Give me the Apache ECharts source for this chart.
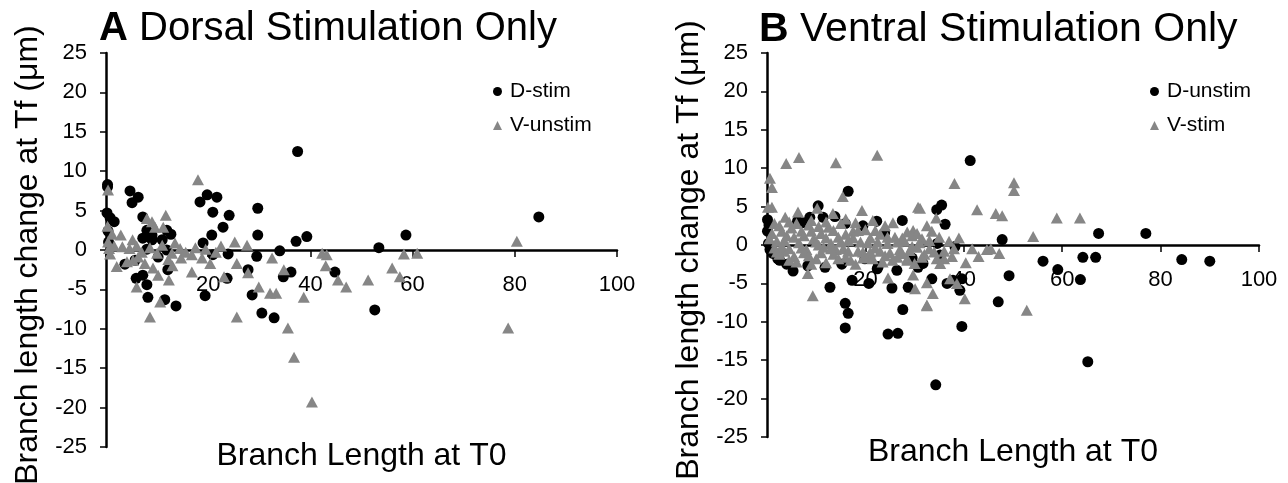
<!DOCTYPE html>
<html><head><meta charset="utf-8">
<script src="https://cdn.jsdelivr.net/npm/echarts@6/dist/echarts.min.js"></script>
<style>html,body{margin:0;padding:0;background:#fff}#c{width:1288px;height:483px}</style>
</head><body><div id="c"></div>
<script>
// Panel A: Dorsal Stimulation Only
const aDstim = [
[0.3,8.3],[0.3,8.0],[0.2,4.7],[0.8,4.1],[1.6,3.6],[0.4,2.4],[0.5,1.0],
[4.7,7.5],[6.3,6.7],[5.1,6.0],[7.2,4.2],[8.0,2.5],[9.0,1.9],[8.2,1.7],[9.0,1.3],[7.2,1.5],[11.0,1.3],[11.9,2.5],[12.7,2.0],[8.0,0.1],[11.9,0.0],[10.2,-0.9],[3.7,-1.8],[5.7,-1.3],
[5.9,-3.6],[8.0,-4.4],[7.2,-3.2],[8.2,-6.0],[11.5,-6.3],[13.7,-7.1],[12.1,-2.5],
[19.8,7.0],[18.4,6.1],[21.7,6.7],[20.9,4.8],[24.1,4.4],[22.9,2.9],[20.7,1.9],[19.0,0.9],[29.7,5.3],[29.7,1.9],[20.9,-0.6],[23.9,-0.5],[29.5,-0.8],[27.8,-2.5],[23.7,-3.6],[19.4,-5.8],[28.6,-5.7],[30.5,-8.0],[32.9,-8.6],
[37.5,12.5],[34.0,-0.1],[37.2,1.1],[39.3,1.7],[36.2,-2.8],[34.7,-3.4],[44.8,-2.8],[53.4,0.3],[52.6,-7.6],[58.7,1.9],[84.7,4.2]
];
const aVunstim = [
[0.4,7.6],[0.3,3.0],[0.4,1.0],[0.6,0.2],[0.8,-0.5],[1.2,2.0],[1.6,0.5],[2.1,-2.1],[2.9,1.9],[3.2,0.4],[4.1,-1.5],[4.6,0.2],[5.2,1.3],[5.3,-1.3],[6.0,0.5],[6.3,-0.9],[7.0,-0.3],[7.6,-1.7],[8.0,4.0],[8.6,0.3],[9.0,3.6],[9.2,-2.3],[9.6,2.9],[10.0,-0.4],[10.2,-3.2],[11.2,2.9],[11.0,0.6],[11.7,4.4],[12.2,-1.2],[12.9,-0.4],[13.5,0.9],[13.0,-2.0],[14.5,0.2],[14.7,-1.0],[15.6,-0.3],[16.8,-0.6],[16.8,-2.8],[17.5,0.3],[18.8,-1.0],[19.5,0.1],[20.4,-1.7],[21.5,-0.3],[22.5,0.5],
[6.0,-4.7],[8.6,-8.5],[10.6,-6.6],[12.3,-3.8],[18.0,8.9],
[25.2,1.0],[27.6,0.6],[25.6,-1.7],[27.8,-2.9],[29.9,-4.7],[25.6,-8.5],[32.5,-1.0],[23.1,-3.4],[32.1,-5.5],
[34.8,-2.5],[33.3,-5.5],[35.6,-9.9],[36.8,-13.6],[40.3,-19.3],[38.7,-6.0],[42.3,-0.4],[43.2,-0.6],[43.0,-2.0],[45.4,-3.8],[47.0,-4.7],[51.3,-3.8],[56.0,-2.3],[57.5,-3.4],[58.3,-0.5],[60.9,-0.4],[80.4,1.1],[78.7,-9.9]
];
// Panel B: Ventral Stimulation Only
const bDunstim = [
[0.1,3.3],[0.1,1.8],[0.3,0.2],[0.6,-0.6],[1.2,-1.1],[2.2,-1.8],[2.6,-2.0],[4.0,-2.5],[5.3,-3.4],[0.4,2.6],
[6.2,3.1],[8.7,3.6],[7.3,2.9],[10.4,5.1],[11.4,3.6],[13.8,3.7],[15.9,2.8],[16.5,7.0],[19.5,2.5],[22.3,3.1],[23.9,1.6],[27.5,3.2],
[8.3,-2.7],[11.8,-2.9],[15.2,-2.5],[19.9,-1.8],[22.6,-2.8],[26.4,-3.3],[29.5,-1.7],[30.7,-2.9],[31.5,-2.4],
[12.8,-5.5],[17.3,-4.6],[20.7,-5.0],[22.4,-3.1],[25.4,-5.6],[28.7,-5.5],[33.5,-4.4],[15.9,-7.6],[16.5,-8.9],[15.9,-10.8],[24.6,-11.6],[26.6,-11.5],[27.6,-8.4],
[41.3,11.0],[35.5,5.2],[34.5,4.6],[36.2,2.7],[47.8,0.7],[38.2,-0.2],[34.6,0.2],[35.2,-1.3],[31.7,-2.4],[36.6,-5.0],[39.6,-4.4],[37.8,-4.6],[39.2,-5.9],[49.2,-4.0],[47.0,-7.4],[39.6,-10.6],[34.3,-18.2],[56.1,-2.1],[59.1,-3.2],[63.7,-4.5],[64.2,-1.6],[66.8,-1.6],[67.4,1.5],[65.2,-15.2],[77.0,1.5],[84.3,-1.9],[90.0,-2.1]
];
const bVstim = [
[0.6,8.7],[1.0,7.5],[3.9,10.6],[6.5,11.4],[14.0,10.7],[22.4,11.7],[15.4,6.3],[19.3,4.5],[0.2,4.9],[1.0,4.9],[3.7,3.6],[6.3,4.3],[10.2,4.8],[13.4,4.1],[25.6,2.9],[29.7,1.9],[30.7,4.9],[31.1,4.8],[32.5,2.5],[34.4,3.5],[38.1,8.0],
[1.0,1.5],[2.0,0.5],[2.5,2.5],[3.5,-0.8],[4.0,1.2],[5.0,2.2],[5.5,-1.5],[6.5,0.3],[7.0,1.8],[8.0,-0.6],[8.5,2.6],[9.5,0.8],[10.0,-1.8],[11.0,1.5],[11.5,-0.3],[12.5,2.3],[13.0,0.2],[13.5,-1.2],[14.5,1.0],[15.0,2.8],[15.5,-0.5],[16.5,0.6],[17.0,-2.0],[17.5,1.8],[18.5,-0.8],[19.0,0.4],[20.0,2.0],[20.5,-1.5],[21.0,0.9],[22.0,-0.4],[23.0,1.4],[23.5,-2.2],[24.5,0.2],[25.0,-1.0],[26.0,1.0],[27.0,-0.6],[28.0,0.5],[28.5,-1.8],[29.5,1.2],[30.5,-0.3],[31.5,0.8],[32.0,-1.2],[33.0,-0.5],[33.5,1.8],[34.5,-1.8],[36.0,-0.8],[37.0,0.5],
[2.5,-1.2],[4.5,-2.0],[6.0,-2.2],[7.5,-1.0],[9.0,-2.5],[10.5,0.0],[12.0,-2.3],[14.0,-0.6],[16.0,-1.6],[18.0,-2.5],[19.5,-0.9],[21.5,-1.8],[22.5,0.4],[24.0,-1.4],[26.5,-1.6],[27.5,0.9],[29.0,-0.7],[30.0,-2.4],[31.0,0.3],[4.5,3.0],[9.0,3.2],[12.0,3.0],[16.0,3.4],[18.0,2.9],[21.5,3.2],[24.0,2.5],[3.0,-0.2],[1.5,-0.4],
[0.5,0.8],[1.5,2.8],[2.0,-0.9],[3.0,1.8],[3.5,0.6],[4.5,-0.5],[5.5,1.0],[6.0,2.8],[7.0,-0.4],[7.5,1.2],[8.5,-1.4],[9.0,1.8],[10.0,0.4],[10.5,2.4],[11.0,-1.0],[12.0,0.9],[13.0,-0.5],[13.5,1.9],[14.5,-1.8],[15.0,0.4],[16.0,1.4],[16.5,-0.8],[17.5,0.9],[18.5,1.9],[19.5,-1.7],[20.5,0.3],[21.0,-0.9],[22.0,1.9],[23.0,-0.8],[24.5,1.0],[25.5,-2.0],[26.5,0.4],[27.5,-1.1],[28.5,1.7],[29.5,-0.2],[30.5,1.5],[31.5,-1.6],[33.0,0.6],[34.0,-0.9],[35.0,1.0],[36.0,-1.8],[38.0,-0.5],[39.0,0.9],[43.0,-1.5],[45.5,-0.5],
[9.3,-6.6],[8.3,-3.7],[24.6,-4.3],[29.7,-3.9],[30.1,-5.7],[32.5,-7.8],[28.5,-2.0],
[50.2,8.1],[50.2,7.1],[42.7,4.6],[46.5,4.1],[47.8,3.8],[58.9,3.5],[63.6,3.5],[54.1,1.1],[41.7,-0.5],[44.7,-0.6],[47.2,-1.1],[40.4,-2.3],[37.6,-1.5],[35.2,-2.4],[32.5,-4.9],[33.7,-6.3],[32.5,-7.9],[40.2,-7.0],[52.8,-8.5],[38.6,-5.0],[37.2,-4.4]
];
const panelTitles = ['A', 'Dorsal Stimulation Only', 'B', 'Ventral Stimulation Only'];
const seriesNames = ['D-stim', 'V-unstim', 'D-unstim', 'V-stim'];
const xName = 'Branch Length at T0';
const yName = 'Branch length change at Tf (\u03bcm)';

const FONT = 'Liberation Sans, Arial, sans-serif';
const chart = echarts.init(document.getElementById('c'), null, {renderer: 'canvas'});

// the x axis sits on y = 0: shift it up from the grid bottom by half the plot height
function xAx(i, halfH, gap) {
  return {
    gridIndex: i, type: 'value', min: 0, max: 100, interval: 20,
    position: 'bottom', offset: -halfH,
    name: xName, nameLocation: 'middle', nameGap: gap,
    nameTextStyle: {fontSize: 32, color: '#000', fontFamily: FONT},
    axisLine: {onZero: false, lineStyle: {color: '#000', width: 2.5}},
    axisTick: {show: true, length: 7, lineStyle: {color: '#000', width: 1.5}},
    axisLabel: {fontSize: 22, color: '#000', fontFamily: FONT, margin: 24,
      formatter: v => v === 0 ? '' : String(v)},
    splitLine: {show: false}
  };
}
function yAx(i) {
  return {
    gridIndex: i, type: 'value', min: -25, max: 25, interval: 5,
    name: yName, nameLocation: 'middle', nameGap: 62,
    nameTextStyle: {fontSize: 32, color: '#000', fontFamily: FONT, padding: [0, 10, 0, 0]},
    axisLine: {show: true, lineStyle: {color: '#000', width: 2.5}},
    axisTick: {show: true, length: 6, lineStyle: {color: '#000', width: 1.5}},
    axisLabel: {fontSize: 22, color: '#000', fontFamily: FONT, margin: 19},
    splitLine: {show: false}
  };
}
function titleOf(left, bold, rest, size) {
  return {
    text: '{b|' + bold + '} ' + rest, left: left, top: 4,
    textStyle: {fontSize: size, fontWeight: 'normal', color: '#000', fontFamily: FONT,
      rich: {b: {fontSize: size, fontWeight: 'bold', color: '#000', fontFamily: FONT}}}
  };
}
function legendOf(left, names) {
  return {
    data: names, orient: 'vertical', left: left, top: 76, itemWidth: 9, itemHeight: 9, itemGap: 13,
    textStyle: {fontSize: 21, color: '#000', fontFamily: FONT, padding: [0, 0, 0, 3]}
  };
}
function sc(name, data, i, tri) {
  return {
    name: name, type: 'scatter', xAxisIndex: i, yAxisIndex: i, data: data,
    symbol: tri ? 'triangle' : 'circle', symbolSize: tri ? [12, 11] : 11,
    itemStyle: {color: tri ? '#868686' : '#000', opacity: 1},
    z: tri ? 3 : 2
  };
}

chart.setOption({
  animation: false,
  backgroundColor: '#fff',
  title: [titleOf(94, panelTitles[0], panelTitles[1], 40), titleOf(754, panelTitles[2], panelTitles[3], 41)],
  legend: [legendOf(488, [seriesNames[0], seriesNames[1]]), legendOf(1145, [seriesNames[2], seriesNames[3]])],
  grid: [
    {left: 106, top: 53, width: 511, height: 394, outerBoundsMode: 'none'},
    {left: 767, top: 53, width: 492, height: 384, outerBoundsMode: 'none'}
  ],
  xAxis: [xAx(0, 197, 190), xAx(1, 192, 191)],
  yAxis: [yAx(0), yAx(1)],
  series: [
    sc(seriesNames[0], aDstim, 0, false), sc(seriesNames[1], aVunstim, 0, true),
    sc(seriesNames[2], bDunstim, 1, false), sc(seriesNames[3], bVstim, 1, true)
  ]
});
</script></body></html>
